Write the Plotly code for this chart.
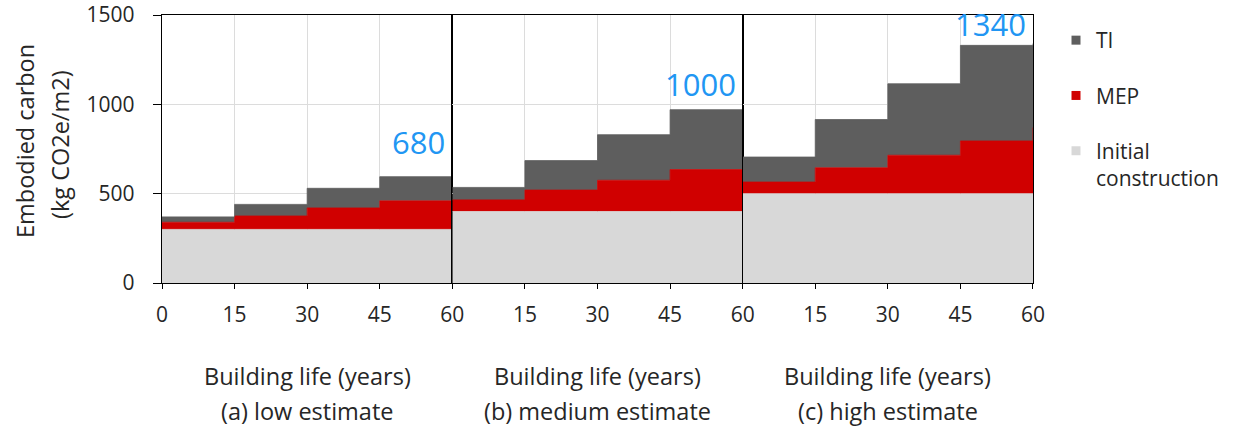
import plotly.graph_objects as go

# Building life (years) at which each stacked level starts
years = [0, 15, 30, 45, 60]

# Embodied carbon contributions (kg CO2e/m2), stacked per scenario
initial_low = [300, 300, 300, 300, 300]
mep_low = [40, 75, 120, 160, 165]
ti_low = [30, 65, 110, 135, 215]

initial_med = [400, 400, 400, 400, 400]
mep_med = [65, 120, 175, 235, 255]
ti_med = [70, 165, 255, 335, 345]

initial_high = [500, 500, 500, 500, 500]
mep_high = [65, 145, 215, 295, 370]
ti_high = [140, 270, 400, 535, 470]

# End-of-life totals written above each panel
end_totals = [680, 1000, 1340]

panel_names = ["(a) low estimate", "(b) medium estimate", "(c) high estimate"]
x_title = "Building life (years)"
series_names = ["Initial construction", "MEP", "TI"]
legend_labels = ["TI", "MEP", "Initial<br>construction"]

x_tickvals = [0, 15, 30, 45, 60]
x_ticktext_first = ["0", "15", "30", "45", "60"]
x_ticktext_other = ["", "15", "30", "45", "60"]
y_tickvals = [0, 500, 1000, 1500]

colors = {"Initial construction": "#D8D8D8", "MEP": "#D00000", "TI": "#5E5E5E"}
label_blue = "#2196F3"
text_color = "#262626"
font_family = "Open Sans, Noto Sans, sans-serif"

W, H = 1233, 437
ML, MR, MT, MB = 162, 200, 15, 154
PW, PH = W - ML - MR, H - MT - MB


def px_x(px):
    return (px - ML) / PW


def px_y(py):
    return 1 - (py - MT) / PH


panels = [
    (initial_low, mep_low, ti_low),
    (initial_med, mep_med, ti_med),
    (initial_high, mep_high, ti_high),
]

fig = go.Figure()

for i, (init, mep, ti) in enumerate(panels):
    suffix = "" if i == 0 else str(i + 1)
    for name, vals in zip(series_names, (init, mep, ti)):
        fig.add_trace(go.Scatter(
            x=years, y=vals, name=name,
            xaxis="x" + suffix, yaxis="y" + suffix,
            mode="lines", stackgroup="s" + str(i),
            line=dict(shape="hv", width=0.8, color=colors[name]),
            fillcolor=colors[name],
            showlegend=False, hoverinfo="x+y+name",
        ))

# Legend entries with small square swatches
for label, name in zip(legend_labels, ["TI", "MEP", "Initial construction"]):
    fig.add_trace(go.Scatter(
        x=[None], y=[None], mode="markers", name=label,
        legendgroup=name,
        marker=dict(symbol="square", size=9, color=colors[name],
                    line=dict(width=0)),
        showlegend=True,
    ))

axis_common = dict(
    range=[0, 60], tickvals=x_tickvals, ticks="outside", ticklen=5,
    tickcolor="black", showline=True, linecolor="black", linewidth=1.4,
    mirror=True, showgrid=True, gridcolor="#DCDCDC", gridwidth=1,
    zeroline=False, ticklabelstandoff=8,
    tickfont=dict(size=21, color=text_color, family=font_family),
)

layout = dict(
    width=W, height=H,
    margin=dict(l=ML, r=MR, t=MT, b=MB, pad=0, autoexpand=False),
    plot_bgcolor="white", paper_bgcolor="white",
    font=dict(family=font_family, size=21, color=text_color),
    showlegend=True,
    legend=dict(
        x=px_x(1056), y=px_y(20), xanchor="left", yanchor="top",
        traceorder="grouped", tracegroupgap=25, valign="top",
        font=dict(size=21, color=text_color, family=font_family),
        bgcolor="rgba(0,0,0,0)", itemwidth=30,
    ),
)

for i in range(3):
    suffix = "" if i == 0 else str(i + 1)
    dom = [i / 3, (i + 1) / 3]
    layout["xaxis" + suffix] = dict(
        axis_common, domain=dom, anchor="y" + suffix,
        ticktext=x_ticktext_first if i == 0 else x_ticktext_other,
    )
    ycfg = dict(
        range=[0, 1500], tickvals=y_tickvals, showline=True,
        linecolor="black", linewidth=1.4, mirror=True, showgrid=True,
        gridcolor="#DCDCDC", gridwidth=1, zeroline=False,
        anchor="x" + suffix, domain=[0, 1],
    )
    if i == 0:
        ycfg.update(ticks="outside", ticklen=8, tickcolor="black",
                    ticklabelstandoff=14,
                    tickfont=dict(size=21, color=text_color, family=font_family))
    else:
        ycfg.update(matches="y", showticklabels=False, ticks="")
    layout["yaxis" + suffix] = ycfg

fig.update_layout(**layout)

annotations = []
centers = [ML + PW * (i + 0.5) / 3 for i in range(3)]
for i in range(3):
    suffix = "" if i == 0 else str(i + 1)
    annotations.append(dict(
        x=60, y=end_totals[i], xref="x" + suffix, yref="y" + suffix,
        text=str(end_totals[i]), showarrow=False,
        xanchor="right", yanchor="bottom", xshift=-5, yshift=-3,
        font=dict(size=31, color=label_blue, family=font_family),
    ))
    annotations.append(dict(
        x=px_x(centers[i]), y=px_y(376), xref="paper", yref="paper",
        text=x_title, showarrow=False, xanchor="center", yanchor="middle",
        font=dict(size=23.5, color=text_color, family=font_family),
    ))
    annotations.append(dict(
        x=px_x(centers[i]), y=px_y(411), xref="paper", yref="paper",
        text=panel_names[i], showarrow=False, xanchor="center", yanchor="middle",
        font=dict(size=23.5, color=text_color, family=font_family),
    ))

annotations.append(dict(
    x=px_x(25), y=px_y(141), xref="paper", yref="paper",
    text="Embodied carbon", textangle=-90, showarrow=False,
    xanchor="center", yanchor="middle",
    font=dict(size=23.5, color=text_color, family=font_family),
))
annotations.append(dict(
    x=px_x(60), y=px_y(145), xref="paper", yref="paper",
    text="(kg CO2e/m2)", textangle=-90, showarrow=False,
    xanchor="center", yanchor="middle",
    font=dict(size=23.5, color=text_color, family=font_family),
))

fig.update_layout(annotations=annotations)

fig.write_html("out.html")
